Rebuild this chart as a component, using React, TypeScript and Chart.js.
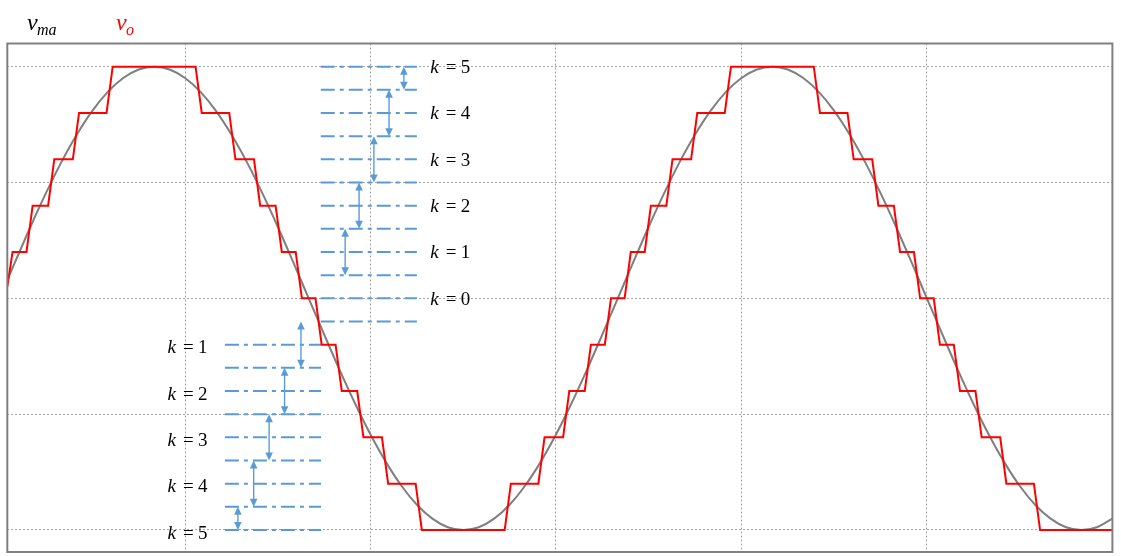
import React, { useEffect, useRef } from "react";
import { Chart, registerables } from "chart.js";

Chart.register(...registerables);

// ---- axes (time in ms, normalised voltage) ----
const X_MIN = 0.25;
const X_MAX = 36;
const Y_MIN = -1.095;
const Y_MAX = 1.1;
const xGridTicks = [6, 12, 18, 24, 30, 36];
const yGridTicks = [-1, -0.5, 0, 0.5, 1];

// ---- v_ma : sinusoidal reference (grey) ----
const sineT = [
  0.25, 0.5, 1, 1.5, 2, 2.5, 3, 3.5, 4, 4.5, 5, 5.5, 6, 6.5, 7, 7.5, 8, 8.5, 9, 9.5, 10,
  10.5, 11, 11.5, 12, 12.5, 13, 13.5, 14, 14.5, 15, 15.5, 16, 16.5, 17, 17.5, 18, 18.5, 19, 19.5, 20,
  20.5, 21, 21.5, 22, 22.5, 23, 23.5, 24, 24.5, 25, 25.5, 26, 26.5, 27, 27.5, 28, 28.5, 29, 29.5, 30,
  30.5, 31, 31.5, 32, 32.5, 33, 33.5, 34, 34.5, 35, 35.5, 36,
];
const sineV = [
  0.079, 0.156, 0.309, 0.454, 0.588, 0.707, 0.809, 0.891, 0.951, 0.988, 1, 0.988, 0.951, 0.891, 0.809, 0.707, 0.588, 0.454, 0.309, 0.156, 0,
  -0.156, -0.309, -0.454, -0.588, -0.707, -0.809, -0.891, -0.951, -0.988, -1, -0.988, -0.951, -0.891, -0.809, -0.707, -0.588, -0.454, -0.309, -0.156, 0,
  0.156, 0.309, 0.454, 0.588, 0.707, 0.809, 0.891, 0.951, 0.988, 1, 0.988, 0.951, 0.891, 0.809, 0.707, 0.588, 0.454, 0.309, 0.156, 0,
  -0.156, -0.309, -0.454, -0.588, -0.707, -0.809, -0.891, -0.951, -0.988, -1, -0.988, -0.951,
];

// ---- v_o : staircase output (red) ----
const stepT = [
  0.25, 0.42, 0.87, 1.07, 1.57, 1.77, 2.37, 2.57, 3.46, 3.66,
  6.34, 6.54, 7.43, 7.63, 8.23, 8.43, 8.93, 9.13, 9.58, 9.78,
  10.22, 10.42, 10.87, 11.07, 11.57, 11.77, 12.37, 12.57, 13.46, 13.66,
  16.34, 16.54, 17.43, 17.63, 18.23, 18.43, 18.93, 19.13, 19.58, 19.78,
  20.22, 20.42, 20.87, 21.07, 21.57, 21.77, 22.37, 22.57, 23.46, 23.66,
  26.34, 26.54, 27.43, 27.63, 28.23, 28.43, 28.93, 29.13, 29.58, 29.78,
  30.22, 30.42, 30.87, 31.07, 31.57, 31.77, 32.37, 32.57, 33.46, 33.66,
  36,
];
const stepV = [
  0.05, 0.2, 0.2, 0.4, 0.4, 0.6, 0.6, 0.8, 0.8, 1,
  1, 0.8, 0.8, 0.6, 0.6, 0.4, 0.4, 0.2, 0.2, 0,
  0, -0.2, -0.2, -0.4, -0.4, -0.6, -0.6, -0.8, -0.8, -1,
  -1, -0.8, -0.8, -0.6, -0.6, -0.4, -0.4, -0.2, -0.2, 0,
  0, 0.2, 0.2, 0.4, 0.4, 0.6, 0.6, 0.8, 0.8, 1,
  1, 0.8, 0.8, 0.6, 0.6, 0.4, 0.4, 0.2, 0.2, 0,
  0, -0.2, -0.2, -0.4, -0.4, -0.6, -0.6, -0.8, -0.8, -1,
  -1,
];

// ---- level annotations ----
const upperLevels = [1.0, 0.9, 0.8, 0.7, 0.6, 0.5, 0.4, 0.3, 0.2, 0.1, 0.0, -0.1];
const upperSpan = [10.39, 13.5];
const lowerLevels = [-0.2, -0.3, -0.4, -0.5, -0.6, -0.7, -0.8, -0.9, -1.0];
const lowerSpan = [7.29, 10.4];

const upperArrowX = [13.08, 12.6, 12.11, 11.63, 11.18];
const upperArrowFrom = [1.0, 0.9, 0.7, 0.5, 0.3];
const upperArrowTo = [0.9, 0.7, 0.5, 0.3, 0.1];
const lowerArrowX = [9.75, 9.22, 8.72, 8.22, 7.71];
const lowerArrowFrom = [-0.1, -0.3, -0.5, -0.7, -0.9];
const lowerArrowTo = [-0.3, -0.5, -0.7, -0.9, -1.0];

const upperLabelK = ["5", "4", "3", "2", "1", "0"];
const upperLabelLevels = [1.0, 0.8, 0.6, 0.4, 0.2, 0.0];
const upperLabelX = 13.93;
const lowerLabelK = ["1", "2", "3", "4", "5"];
const lowerLabelLevels = [-0.2, -0.4, -0.6, -0.8, -1.0];
const lowerLabelX = 5.43;

const BLUE = "#5b9bd5";
const SERIF = '"Liberation Serif", "Times New Roman", serif';

function drawArrow(ctx: CanvasRenderingContext2D, px: number, yTop: number, yBot: number) {
  const h = 8;
  const w = 3.8;
  ctx.lineWidth = 1.4;
  ctx.beginPath();
  ctx.moveTo(px, yTop + h - 1);
  ctx.lineTo(px, yBot - h + 1);
  ctx.stroke();
  ctx.beginPath();
  ctx.moveTo(px, yTop);
  ctx.lineTo(px - w, yTop + h);
  ctx.lineTo(px + w, yTop + h);
  ctx.closePath();
  ctx.fill();
  ctx.beginPath();
  ctx.moveTo(px, yBot);
  ctx.lineTo(px - w, yBot - h);
  ctx.lineTo(px + w, yBot - h);
  ctx.closePath();
  ctx.fill();
}

function drawKLabel(ctx: CanvasRenderingContext2D, x0: number, yMid: number, digit: string) {
  const base = yMid + 6.4;
  ctx.fillStyle = "#000";
  ctx.textAlign = "left";
  ctx.textBaseline = "alphabetic";
  ctx.font = `italic 19px ${SERIF}`;
  ctx.fillText("k", x0, base);
  ctx.font = `19px ${SERIF}`;
  ctx.fillText("=", x0 + 15.5, base);
  ctx.fillText(digit, x0 + 30.5, base);
}

const annotationPlugin = {
  id: "levelAnnotations",
  afterDatasetsDraw(chart: any) {
    const { ctx, scales } = chart;
    const xs = scales.x;
    const ys = scales.y;
    ctx.save();
    ctx.strokeStyle = BLUE;
    ctx.fillStyle = BLUE;
    for (let i = 0; i < upperArrowX.length; i++) {
      drawArrow(ctx, xs.getPixelForValue(upperArrowX[i]), ys.getPixelForValue(upperArrowFrom[i]), ys.getPixelForValue(upperArrowTo[i]));
    }
    for (let i = 0; i < lowerArrowX.length; i++) {
      drawArrow(ctx, xs.getPixelForValue(lowerArrowX[i]), ys.getPixelForValue(lowerArrowFrom[i]), ys.getPixelForValue(lowerArrowTo[i]));
    }
    for (let i = 0; i < upperLabelK.length; i++) {
      drawKLabel(ctx, xs.getPixelForValue(upperLabelX), ys.getPixelForValue(upperLabelLevels[i]), upperLabelK[i]);
    }
    for (let i = 0; i < lowerLabelK.length; i++) {
      drawKLabel(ctx, xs.getPixelForValue(lowerLabelX), ys.getPixelForValue(lowerLabelLevels[i]) + 2.2, lowerLabelK[i]);
    }
    ctx.restore();
  },
  afterDraw(chart: any) {
    const { ctx, chartArea } = chart;
    ctx.save();
    // frame
    ctx.strokeStyle = "#808080";
    ctx.lineWidth = 2;
    ctx.strokeRect(chartArea.left, chartArea.top, chartArea.right - chartArea.left, chartArea.bottom - chartArea.top);
    // legend
    ctx.textAlign = "left";
    ctx.textBaseline = "alphabetic";
    ctx.fillStyle = "#000";
    ctx.font = `italic 24px ${SERIF}`;
    ctx.fillText("v", 27, 30);
    ctx.font = `italic 16px ${SERIF}`;
    ctx.fillText("ma", 37, 35);
    ctx.fillStyle = "#ff0000";
    ctx.font = `italic 24px ${SERIF}`;
    ctx.fillText("v", 116, 30);
    ctx.font = `italic 16px ${SERIF}`;
    ctx.fillText("o", 126, 35);
    ctx.restore();
  },
};

export default function App() {
  const ref = useRef<HTMLCanvasElement>(null);

  useEffect(() => {
    if (!ref.current) return;
    const hLine = (levels: number[], span: number[]) =>
      levels.map((lv) => ({
        type: "line" as const,
        data: [
          { x: span[0], y: lv },
          { x: span[1], y: lv },
        ],
        borderColor: BLUE,
        borderWidth: 2,
        borderDash: [14, 5, 4, 5],
        pointRadius: 0,
        order: 3,
      }));

    const chart = new Chart(ref.current, {
      type: "line",
      data: {
        datasets: [
          {
            label: "v_o",
            data: stepT.map((t, i) => ({ x: t, y: stepV[i] })),
            borderColor: "#ff0000",
            borderWidth: 2,
            pointRadius: 0,
            tension: 0,
            order: 1,
          },
          {
            label: "v_ma",
            data: sineT.map((t, i) => ({ x: t, y: sineV[i] })),
            borderColor: "#7f7f7f",
            borderWidth: 2,
            pointRadius: 0,
            cubicInterpolationMode: "monotone",
            order: 2,
          },
          ...hLine(upperLevels, upperSpan),
          ...hLine(lowerLevels, lowerSpan),
        ] as any,
      },
      options: {
        responsive: false,
        animation: false,
        events: [],
        layout: { padding: { left: 7.3, top: 43.5, right: 8.6, bottom: 4 } },
        plugins: { legend: { display: false }, tooltip: { enabled: false }, title: { display: false } },
        scales: {
          x: {
            type: "linear",
            min: X_MIN,
            max: X_MAX,
            afterBuildTicks: (s: any) => {
              s.ticks = xGridTicks.map((v) => ({ value: v }));
            },
            ticks: { display: false },
            grid: { color: "#a6a6a6", lineWidth: 1, drawTicks: false },
            border: { display: false, dash: [2, 2] },
          },
          y: {
            type: "linear",
            min: Y_MIN,
            max: Y_MAX,
            afterBuildTicks: (s: any) => {
              s.ticks = yGridTicks.map((v) => ({ value: v }));
            },
            ticks: { display: false },
            grid: { color: "#a6a6a6", lineWidth: 1, drawTicks: false },
            border: { display: false, dash: [2, 2] },
          },
        },
      },
      plugins: [annotationPlugin],
    });
    return () => chart.destroy();
  }, []);

  return (
    <canvas
      ref={ref}
      width={1121}
      height={556}
      style={{ position: "absolute", left: 0, top: 0, display: "block", background: "#fff" }}
    />
  );
}
